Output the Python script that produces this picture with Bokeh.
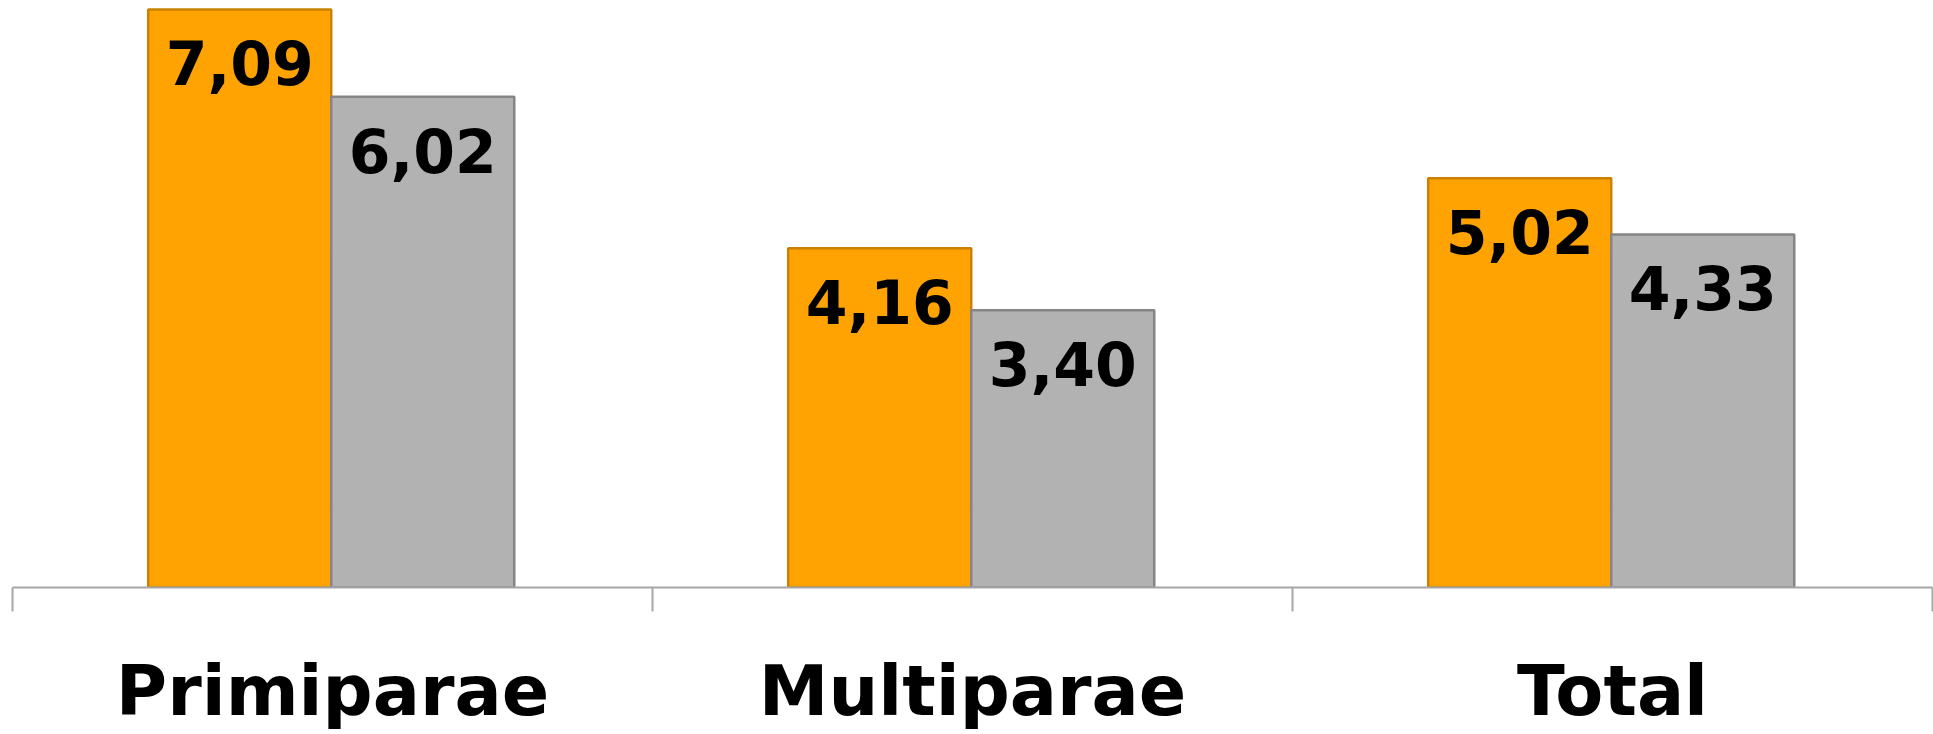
from bokeh.plotting import figure
from bokeh.models import (FactorRange, Range1d, LinearAxis, FixedTicker, ColumnDataSource,
                          LabelSet)
from bokeh.transform import dodge
from bokeh.core.properties import value
from bokeh.embed import file_html
from bokeh.resources import INLINE

categories = ["Primiparae", "Multiparae", "Total"]
orange_values = [7.09, 4.16, 5.02]
gray_values = [6.02, 3.40, 4.33]
orange_labels = ["7,09", "4,16", "5,02"]
gray_labels = ["6,02", "3,40", "4,33"]
boundary_ticks = [0, 1, 2, 3]

src = ColumnDataSource(dict(cat=categories, o=orange_values, g=gray_values,
                            ol=orange_labels, gl=gray_labels))

p = figure(x_range=FactorRange(*categories), y_range=Range1d(0, 7.20),
           width=1933, height=734, output_backend="svg", toolbar_location=None,
           y_axis_location=None, min_border_left=12, min_border_right=1,
           min_border_top=0, min_border_bottom=0)
p.outline_line_color = None
p.xgrid.grid_line_color = None
p.ygrid.grid_line_color = None
p.background_fill_color = "white"

OFF_O, OFF_G, W = -0.145, 0.141, 0.286
p.vbar(x=dodge("cat", OFF_O, range=p.x_range), top="o", width=W, source=src,
       fill_color="#FFA302", line_color="#C98200", line_width=2.5)
p.vbar(x=dodge("cat", OFF_G, range=p.x_range), top="g", width=W, source=src,
       fill_color="#B2B2B2", line_color="#858585", line_width=2.5)

for off, col, lab in [(OFF_O, "o", "ol"), (OFF_G, "g", "gl")]:
    ls = LabelSet(x=dodge("cat", off, range=p.x_range), y=col, text=lab, source=src,
                  text_align="center", text_baseline="alphabetic", y_offset=-76,
                  text_font=value("DejaVu Sans"), text_font_style="bold",
                  text_font_size="60px", text_color="black")
    p.add_layout(ls)

cat_axis = p.xaxis[0]
cat_axis.axis_line_color = None
cat_axis.major_tick_line_color = None
cat_axis.minor_tick_line_color = None
cat_axis.major_label_text_font = "DejaVu Sans"
cat_axis.major_label_text_font_style = "bold"
cat_axis.major_label_text_font_size = "70px"
cat_axis.major_label_text_color = "black"
cat_axis.major_label_standoff = 32

bnd_axis = LinearAxis(ticker=FixedTicker(ticks=boundary_ticks),
                      axis_line_color="#A6A6A6", axis_line_width=2,
                      major_tick_line_color="#A6A6A6", major_tick_line_width=2,
                      major_tick_out=24, major_tick_in=0,
                      minor_tick_line_color=None,
                      major_label_overrides={t: "" for t in boundary_ticks},
                      major_label_text_font_size="1px", major_label_standoff=0)
p.below = [bnd_axis, cat_axis]

open("out.html", "w").write(file_html(p, INLINE))
